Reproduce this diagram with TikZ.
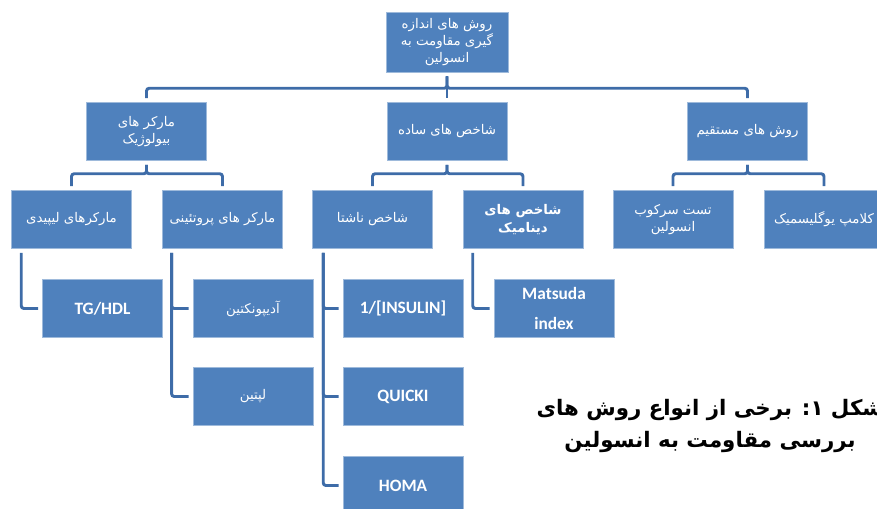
\documentclass[tikz,border=0pt]{standalone}
\usepackage{fontspec}
\setmainfont{Carlito}
\newfontfamily\farsi[Script=Arabic]{DejaVu Sans}
\TeXXeTstate=1
\usepackage{xcolor}
\usepackage{tikz}
\usetikzlibrary{positioning}
\definecolor{boxblue}{RGB}{79,129,189}
\definecolor{lineblue}{RGB}{62,108,168}
\newcommand{\fa}[1]{{\farsi\beginR #1\endR}}

\begin{document}
\begin{tikzpicture}[x=0.75pt,y=-0.75pt,
                every node/.append style = {font=\fontsize{10}{13}\selectfont},
                box/.style = {draw=boxblue!55!white, fill=boxblue, text=white, align=center,
                    minimum width=90pt, minimum height=43.5pt, inner sep=1pt},
                latin/.style = {box, font=\fontsize{13}{22}\selectfont\bfseries},
                link/.style = {draw=lineblue, line width=2.2pt, rounded corners=2pt,
                    shorten <=3pt, shorten >=3pt}]
            \useasboundingbox (0,0) rectangle (877,509);
            \node[box, minimum width=91.5pt, minimum height=45pt] (root) at (447,42)
                {\fa{روش های اندازه}\\\fa{گیری مقاومت به}\\\fa{انسولین}};
            \node[box] (bio) at (146.5,131.5) {\fa{مارکر های}\\\fa{بیولوژیک}};
            \node[box] (simple) at (447,131.5) {\fa{شاخص های ساده}};
            \node[box] (direct) at (747.5,131.5) {\fa{روش های مستقیم}};
            \node[box] (lipid) at (71.5,219.5) {\fa{مارکرهای لیپیدی}};
            \node[box] (protein) at (222.5,219.5) {\fa{مارکر های پروتئینی}};
            \node[box] (fasting) at (372.5,219.5) {\fa{شاخص ناشتا}};
            \node[box, font=\fontsize{10}{13}\selectfont\bfseries] (dynamic) at (523,219.5)
                {\fa{شاخص های}\\\fa{دینامیک}};
            \node[box] (suppress) at (673,219.5) {\fa{تست سرکوب}\\\fa{انسولین}};
            \node[box] (clamp) at (824,219.5) {\fa{کلامپ یوگلیسمیک}};
            \node[latin] (tghdl) at (102.5,308.5) {TG/HDL};
            \node[box] (adipo) at (253,308.5) {\fa{آدیپونکتین}};
            \node[box] (leptin) at (253,396.5) {\fa{لپتین}};
            \node[latin] (insulin) at (403,308.5) {1/[INSULIN]};
            \node[latin] (quicki) at (403,396.5) {QUICKI};
            \node[latin] (homa) at (403,485.5) {HOMA};
            \node[latin] (matsuda) at (554,308.5) {Matsuda\\index};
            \node[align=center, font=\fontsize{16}{24}\selectfont\bfseries] (caption) at (710,426)
                {\fa{شکل ۱\kern0pt: برخی از انواع روش های}\\\fa{بررسی مقاومت به انسولین}};
            \draw[link] (root.south) -- (simple.north);
            \draw[link] (root.south) -- ++(0,16) -| (bio.north);
            \draw[link] (root.south) -- ++(0,16) -| (direct.north);
            \draw[link] (bio.south) -- ++(0,13) -| (lipid.north);
            \draw[link] (bio.south) -- ++(0,13) -| (protein.north);
            \draw[link] (simple.south) -- ++(0,13) -| (fasting.north);
            \draw[link] (simple.south) -- ++(0,13) -| (dynamic.north);
            \draw[link] (direct.south) -- ++(0,13) -| (suppress.north);
            \draw[link] (direct.south) -- ++(0,13) -| (clamp.north);
            \draw[link] ([xshift=7.5pt]lipid.south west) |- (tghdl.west);
            \draw[link] ([xshift=7pt]protein.south west) |- (adipo.west);
            \draw[link] ([xshift=7pt]protein.south west) |- (leptin.west);
            \draw[link] ([xshift=8.25pt]fasting.south west) |- (insulin.west);
            \draw[link] ([xshift=8.25pt]fasting.south west) |- (quicki.west);
            \draw[link] ([xshift=8.25pt]fasting.south west) |- (homa.west);
            \draw[link] ([xshift=7.5pt]dynamic.south west) |- (matsuda.west);
            \end{tikzpicture}
\end{document}
